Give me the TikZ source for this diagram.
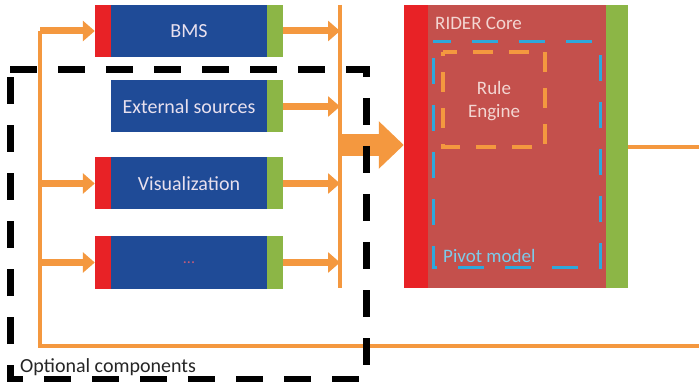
\documentclass[tikz,border=0pt]{standalone}
\usepackage{fontspec}
\setmainfont{Carlito}
\usetikzlibrary{arrows.meta}
\definecolor{boxblue}{HTML}{1F4B97}
\definecolor{stripred}{HTML}{E82226}
\definecolor{stripgreen}{HTML}{8CB646}
\definecolor{orng}{HTML}{F4983F}
\definecolor{corebody}{HTML}{C4504C}
\definecolor{boxtext}{HTML}{E8E0EE}
\definecolor{coretext}{HTML}{F3D6D2}
\definecolor{pivotblue}{HTML}{2EA8DC}
\definecolor{pivottext}{HTML}{7CCBEA}
\definecolor{dottext}{HTML}{C65C7A}
\begin{document}
\begin{tikzpicture}[x=1pt,y=-1pt,
  body/.style={fill=boxblue, minimum width=156pt, minimum height=52pt, inner sep=0pt, text=boxtext, font=\fontsize{20}{22}\selectfont},
  rstrip/.style={fill=stripred, minimum width=16pt, minimum height=52pt, inner sep=0pt},
  gstrip/.style={fill=stripgreen, minimum width=16pt, minimum height=52pt, inner sep=0pt},
  thinline/.style={draw=orng, line width=4pt},
  smallarrow/.style={draw=orng, line width=7pt, -{Triangle[length=12pt,width=20pt]}},
  bigarrow/.style={draw=orng, line width=22pt, -{Triangle[length=25pt,width=46pt]}},
  optbox/.style={draw=black, line width=7pt, dash pattern=on 27pt off 21pt},
  pivotbox/.style={draw=pivotblue, line width=3pt, dash pattern=on 26pt off 21pt, dash phase=8pt},
  rulebox/.style={draw=orng, line width=3.5pt, dash pattern=on 20pt off 16pt, dash phase=6pt},
]
\useasboundingbox (0,0) rectangle (699,382);
\fill[white] (0,0) rectangle (699,382);

% core
\node[fill=stripred, minimum width=24pt, minimum height=283pt, inner sep=0pt] (coreR) at (416,146.5) {};
\node[fill=corebody, minimum width=178pt, minimum height=283pt, inner sep=0pt] (core) at (517,146.5) {};
\node[fill=stripgreen, minimum width=22pt, minimum height=283pt, inner sep=0pt] (coreG) at (617,146.5) {};
\node[anchor=base west, text=coretext, font=\fontsize{19}{21}\selectfont, inner sep=0pt] (coretitle) at (435,30) {RIDER Core};
\coordinate (pvA) at (433,42);
\coordinate (pvB) at (600,268);
\draw[pivotbox] (pvA) -- (pvA -| pvB) -- (pvB) -- (pvB -| pvA) -- cycle;
\coordinate (rlA) at (443,52);
\coordinate (rlB) at (545,147);
\draw[rulebox] (rlA) -- (rlA -| rlB) -- (rlB) -- (rlB -| rlA) -- cycle;
\node[text=coretext, font=\fontsize{19}{23}\selectfont, align=center, inner sep=0pt] (rule) at (494,101) {Rule\\Engine};
\node[anchor=base west, text=pivottext, font=\fontsize{19}{21}\selectfont, inner sep=0pt] (pivotlabel) at (443,262) {Pivot model};

% component boxes
\node[body] (bms) at (189,31) {BMS};
\node[rstrip] (bmsR) at (103,31) {};
\node[gstrip] (bmsG) at (275,31) {};

\node[body] (ext) at (189,106.5) {External sources};
\node[gstrip] (extG) at (275,106.5) {};

\node[body] (vis) at (189,183.5) {Visualization};
\node[rstrip] (visR) at (103,183.5) {};
\node[gstrip] (visG) at (275,183.5) {};

\node[body, text=dottext, font=\fontsize{16}{18}\selectfont] (dots) at (189,262.5) {...};
\node[rstrip] (dotsR) at (103,262.5) {};
\node[gstrip] (dotsG) at (275,262.5) {};

% buses
\coordinate (lbTop) at (40,31);
\coordinate (lbVis) at (40,183.5);
\coordinate (lbDots) at (40,262.5);
\coordinate (lbBot) at (40,346);
\coordinate (outBot) at (699,346);
\draw[thinline] (lbTop) -- (lbBot) -- (outBot);

\coordinate (rbTop) at (340,5);
\coordinate (rbBot) at (340,288);
\draw[thinline] (rbTop) -- (rbBot);

\draw[smallarrow] (lbTop) -- (bmsR.west);
\draw[smallarrow] (lbVis) -- (visR.west);
\draw[smallarrow] (lbDots) -- (dotsR.west);

\draw[smallarrow] (bmsG.east) -- (bmsG.east -| rbTop);
\draw[smallarrow] (extG.east) -- (extG.east -| rbTop);
\draw[smallarrow] (visG.east) -- (visG.east -| rbTop);
\draw[smallarrow] (dotsG.east) -- (dotsG.east -| rbTop);

\coordinate (bigStart) at (340,145);
\draw[bigarrow] (bigStart) -- (bigStart -| coreR.west);

\coordinate (outCore) at (699,147);
\draw[thinline] (coreG.east |- outCore) -- (outCore);

% optional components frame
\coordinate (opA) at (10,70);
\coordinate (opB) at (366,379);
\draw[optbox] (opA) -- (opA -| opB) -- (opB) -- (opB -| opA) -- cycle;
\node[anchor=base west, text=black!85, font=\fontsize{20}{22}\selectfont, inner sep=0pt] (optlabel) at (20,372) {Optional components};
\end{tikzpicture}
\end{document}
